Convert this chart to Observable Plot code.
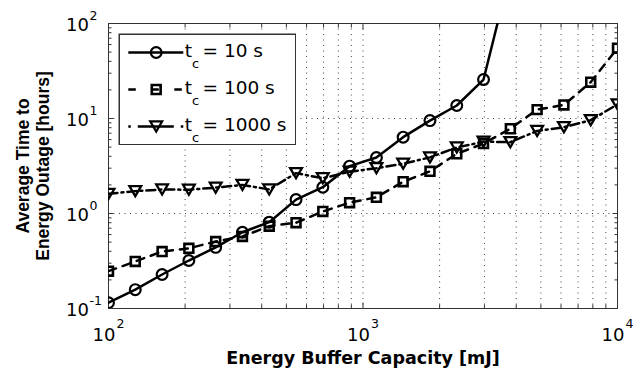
<!DOCTYPE html>
<html>
<head>
<meta charset="utf-8">
<script src="https://cdn.jsdelivr.net/npm/d3@7"></script>
<script src="https://cdn.jsdelivr.net/npm/@observablehq/plot@0.6"></script>
<style>
  html, body { margin: 0; padding: 0; background: #fff; }
  #chart { position: relative; width: 633px; height: 368px; }
  #legend { position: absolute; left: 118px; top: 33px; }
</style>
</head>
<body>
<div id="chart"></div>
<script>
// ---- data ----
const capacity = [100, 127.4, 162.4, 206.9, 263.7, 336, 428.1, 545.6, 695.2, 885.9,
                  1129, 1438, 1833, 2336, 2976, 3793, 4833, 6158, 7848, 10000];
const outage10   = [0.115, 0.158, 0.228, 0.32, 0.44, 0.635, 0.81, 1.40, 1.89, 3.15,
                    3.88, 6.36, 9.5, 13.7, 25.7, 350];
const outage100  = [0.247, 0.313, 0.398, 0.43, 0.507, 0.573, 0.735, 0.80, 1.05, 1.30,
                    1.48, 2.16, 2.78, 4.25, 5.45, 7.8, 12.4, 13.9, 24.1, 55];
const outage1000 = [1.61, 1.72, 1.79, 1.78, 1.87, 2.0, 1.79, 2.66, 2.35, 2.75,
                    3.0, 3.34, 3.9, 4.95, 5.7, 5.63, 7.4, 8.1, 9.6, 14.1];
const seriesNames = ["tc10", "tc100", "tc1000"];
const seriesLabels = ["= 10 s", "= 100 s", "= 1000 s"];

const xMajor = [100, 1000, 10000];
const xMajorExp = ["2", "3", "4"];
const xMinor = [200, 300, 400, 500, 600, 700, 800, 900, 2000, 3000, 4000, 5000, 6000, 7000, 8000, 9000];
const yMajor = [0.1, 1, 10, 100];
const yMajorExp = ["-1", "0", "1", "2"];
const yMinor = [0.2, 0.3, 0.4, 0.5, 0.6, 0.7, 0.8, 0.9, 2, 3, 4, 5, 6, 7, 8, 9, 20, 30, 40, 50, 60, 70, 80, 90];
const yGrid = [1, 10];

const xTitle = "Energy Buffer Capacity [mJ]";
const yTitle = "Average Time to\nEnergy Outage [hours]";

// ---- tables ----
const seriesValues = [outage10, outage100, outage1000];
const rows = seriesNames.flatMap((s, k) =>
  seriesValues[k].map((v, i) => ({series: s, cap: capacity[i], hours: v})));

// custom downward triangle symbol
const triangleDown = {
  draw(context, size) {
    const r = Math.sqrt(size / Math.PI);
    const w = 1.05 * r, h = 0.9 * r;
    context.moveTo(-w, -h);
    context.lineTo(w, -h);
    context.lineTo(0, h);
    context.closePath();
  }
};

const styles = {
  tc10:   {dash: null,        symbol: "circle",  r: 5.4, sw: 2.2, legendDash: null},
  tc100:  {dash: "8,7",       symbol: "square",  r: 5.0, sw: 2.6, legendDash: "7.5,15.5"},
  tc1000: {dash: "9,4,2,4",   symbol: triangleDown, r: 5.6, sw: 2.3, legendDash: "2.5,7,36,7"}
};

const tickFont = "DejaVu Sans, Verdana, sans-serif";
const axisColor = "#333";

const seriesMarks = seriesNames.flatMap(s => {
  const data = rows.filter(d => d.series === s);
  const st = styles[s];
  return [
    Plot.line(data, {x: "cap", y: "hours", stroke: "black", strokeWidth: 2.5,
      strokeDasharray: st.dash, clip: true}),
    Plot.dot(data, {x: "cap", y: "hours", symbol: st.symbol, r: st.r, stroke: "black",
      fill: "none", strokeWidth: st.sw, clip: true})
  ];
});

const main = Plot.plot({
  width: 633, height: 368,
  marginLeft: 108, marginRight: 16, marginTop: 23, marginBottom: 60,
  x: {type: "log", domain: [100, 10000]},
  y: {type: "log", domain: [0.1, 100]},
  style: {fontFamily: tickFont, color: "black", background: "white", overflow: "visible"},
  marks: [
    Plot.gridX(xMajor.concat(xMinor), {stroke: "#222", strokeOpacity: 0.85, strokeDasharray: "1,4.5", strokeWidth: 1}),
    Plot.gridY(yGrid, {stroke: "#222", strokeOpacity: 0.85, strokeDasharray: "1,4.5", strokeWidth: 1}),
    // inward ticks on all four sides
    Plot.axisX(xMajor, {anchor: "bottom", tickSize: -5.5, tickFormat: () => "", label: null, stroke: axisColor}),
    Plot.axisX(xMinor, {anchor: "bottom", tickSize: -3.5, tickFormat: () => "", label: null, stroke: axisColor}),
    Plot.axisX(xMajor, {anchor: "top", tickSize: -5.5, tickFormat: () => "", label: null, stroke: axisColor}),
    Plot.axisX(xMinor, {anchor: "top", tickSize: -3.5, tickFormat: () => "", label: null, stroke: axisColor}),
    Plot.axisY(yMajor, {anchor: "left", tickSize: -5.5, tickFormat: () => "", label: null, stroke: axisColor}),
    Plot.axisY(yMinor, {anchor: "left", tickSize: -3.5, tickFormat: () => "", label: null, stroke: axisColor}),
    Plot.axisY(yMajor, {anchor: "right", tickSize: -5.5, tickFormat: () => "", label: null, stroke: axisColor}),
    Plot.axisY(yMinor, {anchor: "right", tickSize: -3.5, tickFormat: () => "", label: null, stroke: axisColor}),
    Plot.frame({stroke: axisColor, strokeWidth: 1}),
    ...seriesMarks,
    // x tick labels 10^k
    Plot.text(xMajor, {x: d => d, frameAnchor: "bottom", text: () => "10", textAnchor: "end",
      lineAnchor: "middle", dx: 7, dy: 27.2, fontSize: 18, fill: "black"}),
    Plot.text(xMajor, {x: d => d, frameAnchor: "bottom", text: (d, i) => xMajorExp[i], textAnchor: "start",
      lineAnchor: "middle", dx: 8, dy: 15, fontSize: 12.5, fill: "black"}),
    // y tick labels 10^k
    Plot.text(yMajor, {y: d => d, frameAnchor: "left", text: () => "10", textAnchor: "end",
      lineAnchor: "middle", dx: -19.5, dy: 2.2, fontSize: 18, fill: "black"}),
    Plot.text(yMajor, {y: d => d, frameAnchor: "left", text: (d, i) => yMajorExp[i], textAnchor: "start",
      lineAnchor: "middle", dx: -19, dy: -7.5, fontSize: 12.5, fill: "black"}),
    // axis titles
    Plot.text([xTitle], {frameAnchor: "bottom", text: d => d, textAnchor: "middle", lineAnchor: "middle",
      dy: 49.4, fontSize: 17.5, fontWeight: "bold", fill: "black"}),
    Plot.text([yTitle], {frameAnchor: "left", text: d => d, rotate: -90, textAnchor: "middle",
      lineAnchor: "middle", dx: -76, fontSize: 17.5, lineHeight: 1.15, fontWeight: "bold",
      fontFamily: "Liberation Sans, Arial, sans-serif", fill: "black"})
  ]
});

// ---- legend (separate small plot overlaid in the upper-left of the axes) ----
const legendMarks = seriesNames.flatMap((s, k) => {
  const st = styles[s];
  return [
    Plot.ruleY([s], {y: d => d, x1: 10.3, x2: 65.3, stroke: "black", strokeWidth: 2.5,
      strokeDasharray: st.legendDash}),
    Plot.dot([s], {x: 37.7, y: d => d, symbol: st.symbol, r: st.r, stroke: "black",
      fill: "none", strokeWidth: st.sw}),
    Plot.text([s], {x: 66.3, y: d => d, text: () => "t", textAnchor: "start", lineAnchor: "middle",
      dy: -1.9, fontSize: 18.5, fill: "black"}),
    Plot.text([s], {x: 73.6, y: d => d, text: () => "c", textAnchor: "start", lineAnchor: "middle",
      dy: 11.5, fontSize: 13, fill: "black"}),
    Plot.text([s], {x: 84, y: d => d, text: () => seriesLabels[k], textAnchor: "start",
      lineAnchor: "middle", dy: -1.9, fontSize: 18.5, fill: "black"})
  ];
});

const legend = Plot.plot({
  width: 178, height: 112,
  marginLeft: 0, marginRight: 0, marginTop: 0, marginBottom: 0,
  x: {domain: [0, 178], range: [0, 178], axis: null},
  y: {type: "point", domain: seriesNames, range: [18.5, 92.5], padding: 0, axis: null},
  style: {fontFamily: tickFont, color: "black", background: "white"},
  marks: [
    Plot.frame({stroke: axisColor, strokeWidth: 1.5, inset: 0.75}),
    ...legendMarks
  ]
});
legend.id = "legend";

const chart = document.getElementById("chart");
chart.appendChild(main);
chart.appendChild(legend);
</script>
</body>
</html>
